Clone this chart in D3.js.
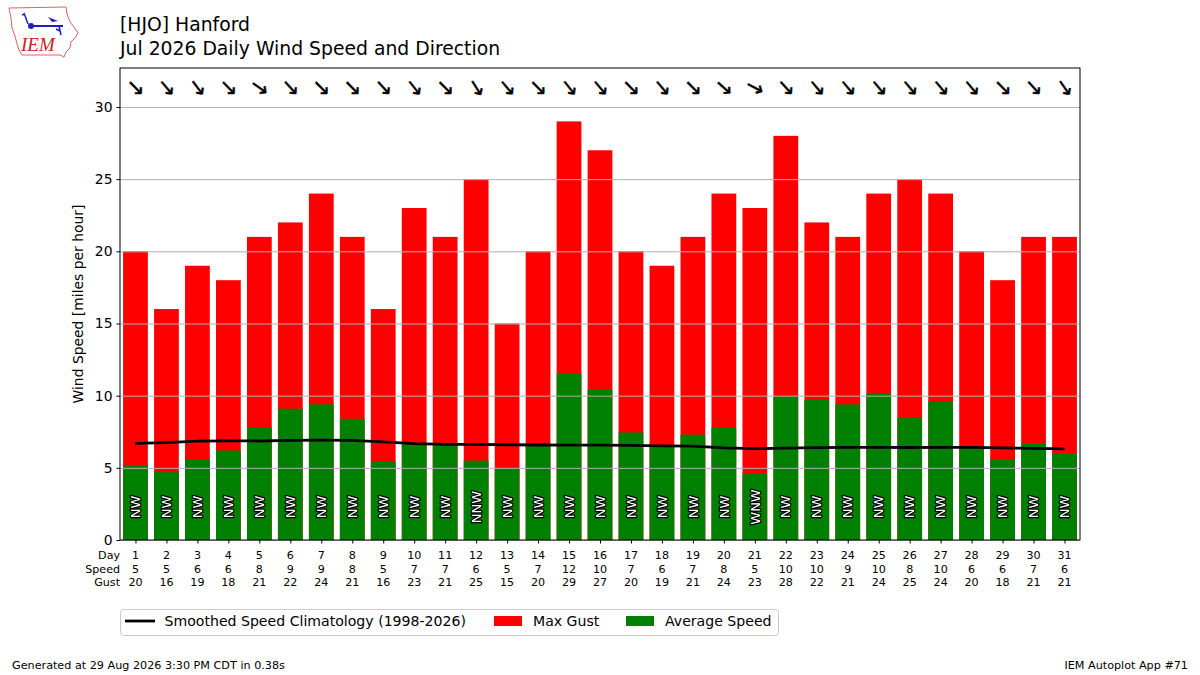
<!DOCTYPE html>
<html>
<head>
<meta charset="utf-8">
<script src="https://cdn.jsdelivr.net/npm/d3@7"></script>
<style>
  body { margin: 0; background: #fff; }
  svg { font-family: "DejaVu Sans", sans-serif; }
</style>
</head>
<body>
<div class="chart"></div>
<script>
// data
const days = [1,2,3,4,5,6,7,8,9,10,11,12,13,14,15,16,17,18,19,20,21,22,23,24,25,26,27,28,29,30,31];
const avgSpeed = [5.2,4.7,5.6,6.2,7.8,9.1,9.4,8.4,5.45,6.65,6.6,5.5,5.0,6.6,11.55,10.4,7.45,6.45,7.3,7.8,4.6,9.95,9.7,9.4,10.15,8.45,9.6,6.4,5.6,6.7,6.0];
const speedLabel = [5,5,6,6,8,9,9,8,5,7,7,6,5,7,12,10,7,6,7,8,5,10,10,9,10,8,10,6,6,7,6];
const maxGust = [20,16,19,18,21,22,24,21,16,23,21,25,15,20,29,27,20,19,21,24,23,28,22,21,24,25,24,20,18,21,21];
const climo = [6.69,6.75,6.85,6.87,6.86,6.9,6.92,6.9,6.8,6.68,6.62,6.62,6.6,6.58,6.57,6.57,6.55,6.52,6.5,6.38,6.33,6.36,6.4,6.42,6.42,6.41,6.42,6.42,6.38,6.35,6.32];
const dirText = ['NW','NW','NW','NW','NW','NW','NW','NW','NW','NW','NW','NNW','NW','NW','NW','NW','NW','NW','NW','NW','WNW','NW','NW','NW','NW','NW','NW','NW','NW','NW','NW'];
const dirDeg = [315,320,323,316,305,318,315,315,318,322,315,328,320,315,322,320,315,320,315,312,298,318,320,320,320,320,320,320,315,318,325];
const yTicks = [0,5,10,15,20,25,30];

const W = 1200, H = 675;
const plot = { left: 120, right: 1080, top: 68, bottom: 540 };

const svg = d3.select('.chart').append('svg').attr('width', W).attr('height', H);

// scales
const x = d3.scaleLinear().domain([0.5, 31.5]).range([plot.left, plot.right]);
const y = d3.scaleLinear().domain([0, 32.7]).range([plot.bottom, plot.top]);
const step = x(2) - x(1);
const barW = step * 0.8;

const rows = days.map((d, i) => ({
  day: d, avg: avgSpeed[i], spd: speedLabel[i], gust: maxGust[i],
  climo: climo[i], dir: dirText[i], deg: dirDeg[i]
}));

// gust bars (red) then average bars (green) on top
svg.append('g').selectAll('rect').data(rows).join('rect')
  .attr('x', d => x(d.day) - barW / 2).attr('width', barW)
  .attr('y', d => y(d.gust)).attr('height', d => y(0) - y(d.gust))
  .attr('fill', '#ff0000');
svg.append('g').selectAll('rect').data(rows).join('rect')
  .attr('x', d => x(d.day) - barW / 2).attr('width', barW)
  .attr('y', d => y(d.avg)).attr('height', d => y(0) - y(d.avg))
  .attr('fill', '#008000');

// horizontal grid over the bars
const grid = svg.append('g').attr('transform', `translate(${plot.left},0)`)
  .call(d3.axisLeft(y).tickValues(yTicks).tickSize(-(plot.right - plot.left)).tickFormat(''));
grid.select('.domain').remove();
grid.selectAll('line').attr('stroke', '#b0b0b0').attr('stroke-width', 1);

// climatology line
const line = d3.line().x(d => x(d.day)).y(d => y(d.climo));
svg.append('path').datum(rows).attr('d', line)
  .attr('fill', 'none').attr('stroke', '#000').attr('stroke-width', 2.8);

// direction labels inside bars
svg.append('g').selectAll('text').data(rows).join('text')
  .attr('transform', d => `translate(${x(d.day)},${507}) rotate(-90)`)
  .attr('text-anchor', 'middle').attr('dy', '0.36em')
  .attr('font-size', 13).attr('fill', '#fff')
  .attr('stroke', '#000').attr('stroke-width', 2.5).attr('paint-order', 'stroke')
  .attr('stroke-linejoin', 'round')
  .text(d => d.dir);

// wind direction arrows at the top
svg.append('g').selectAll('text').data(rows).join('text')
  .attr('transform', d => `translate(${x(d.day)},${88}) rotate(${d.deg + 90})`)
  .attr('text-anchor', 'middle').attr('dy', '0.3em')
  .attr('font-size', 22).attr('fill', '#000')
  .attr('stroke', '#000').attr('stroke-width', 0.4)
  .text('\u2192');

// y axis
const yAxis = svg.append('g').attr('transform', `translate(${plot.left},0)`)
  .call(d3.axisLeft(y).tickValues(yTicks).tickSize(3.5).tickPadding(4));
yAxis.select('.domain').remove();
yAxis.selectAll('text').attr('font-size', 13.9).attr('font-family', 'DejaVu Sans').attr('fill', '#000');
yAxis.selectAll('line').attr('stroke', '#000');

// x axis ticks only
const xAxis = svg.append('g').attr('transform', `translate(0,${plot.bottom})`)
  .call(d3.axisBottom(x).tickValues(days).tickSize(3.5).tickFormat(''));
xAxis.select('.domain').remove();
xAxis.selectAll('line').attr('stroke', '#000');

// frame
svg.append('rect').attr('x', plot.left).attr('y', plot.top)
  .attr('width', plot.right - plot.left).attr('height', plot.bottom - plot.top)
  .attr('fill', 'none').attr('stroke', '#000').attr('stroke-width', 1);

svg.append('text').attr('transform', `translate(83,${(plot.top + plot.bottom) / 2}) rotate(-90)`)
  .attr('text-anchor', 'middle').attr('font-size', 13.9)
  .text('Wind Speed [miles per hour]');

// table under the axis
const table = [['Day', 'day', 559], ['Speed', 'spd', 572.5], ['Gust', 'gust', 586]];
table.forEach(([label, key, yy]) => {
  svg.append('text').attr('x', 120).attr('y', yy).attr('text-anchor', 'end')
    .attr('font-size', 11.1).text(label);
  svg.append('g').selectAll('text').data(rows).join('text')
    .attr('x', d => x(d.day)).attr('y', yy).attr('text-anchor', 'middle')
    .attr('font-size', 11.1).text(d => d[key]);
});

// titles
svg.append('text').attr('x', 120).attr('y', 31).attr('font-size', 18.8).text('[HJO] Hanford');
svg.append('text').attr('x', 120).attr('y', 54.5).attr('font-size', 18.8).text('Jul 2026 Daily Wind Speed and Direction');

// legend
const lg = svg.append('g');
lg.append('rect').attr('x', 120.5).attr('y', 609.5).attr('width', 658).attr('height', 26)
  .attr('rx', 3).attr('fill', '#fff').attr('stroke', '#cccccc');
lg.append('line').attr('x1', 125).attr('x2', 155).attr('y1', 621).attr('y2', 621)
  .attr('stroke', '#000').attr('stroke-width', 2.8);
lg.append('text').attr('x', 164.5).attr('y', 626).attr('font-size', 14.1).text('Smoothed Speed Climatology (1998-2026)');
lg.append('rect').attr('x', 494).attr('y', 616).attr('width', 28).attr('height', 10).attr('fill', '#ff0000');
lg.append('text').attr('x', 533).attr('y', 626).attr('font-size', 14.1).text('Max Gust');
lg.append('rect').attr('x', 626).attr('y', 616).attr('width', 28).attr('height', 10).attr('fill', '#008000');
lg.append('text').attr('x', 665).attr('y', 626).attr('font-size', 14.1).text('Average Speed');

// footer
svg.append('text').attr('x', 12).attr('y', 669).attr('font-size', 11.2)
  .text('Generated at 29 Aug 2026 3:30 PM CDT in 0.38s');
svg.append('text').attr('x', 1188).attr('y', 669).attr('font-size', 11.2).attr('text-anchor', 'end')
  .text('IEM Autoplot App #71');

// IEM logo, rough sketch
const logo = svg.append('g');
logo.append('path')
  .attr('d', 'M9,8 L66,7 L67,14 L70,22 L74,27 L78,33 L75,38 L71,42 L70,48 L66,52 L64,57 L60,55 L22,55 L19,50 L17,44 L15,36 L12,28 L11,18 Z')
  .attr('fill', 'none').attr('stroke', '#e06060').attr('stroke-width', 1);
logo.append('line').attr('x1', 31).attr('y1', 26).attr('x2', 63).attr('y2', 26).attr('stroke', '#2020c0').attr('stroke-width', 2);
logo.append('circle').attr('cx', 31).attr('cy', 26).attr('r', 3).attr('fill', '#2020c0');
logo.append('path').attr('d', 'M48,17 L58,21 L52,22 Z').attr('fill', '#2020c0');
logo.append('path').attr('d', 'M59,26 L61,35 M56,29 L60,31 M24,13 L28,24 M22,15 L25,14').attr('stroke', '#2020c0').attr('stroke-width', 1.5).attr('fill', 'none');
logo.append('text').attr('x', 21).attr('y', 51).attr('font-family', 'Liberation Serif')
  .attr('font-style', 'italic').attr('font-size', 19).attr('fill', '#d02020').text('IEM');
</script>
</body>
</html>
